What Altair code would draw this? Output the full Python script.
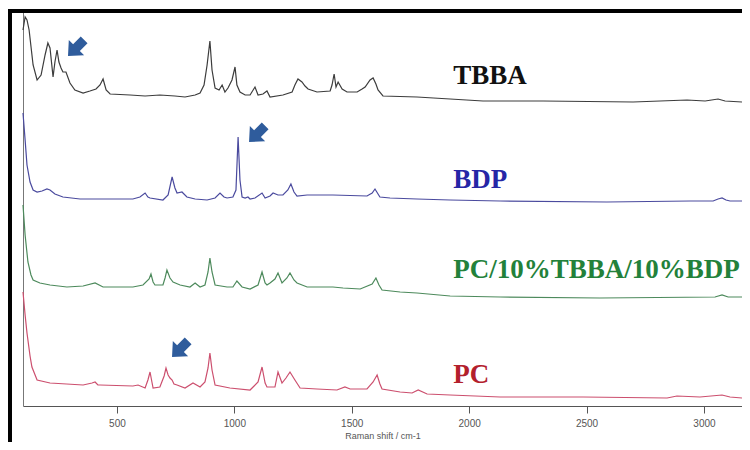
import altair as alt
import pandas as pd

# ---- data (Raman shift in cm-1, stacked intensity in a.u.) ----
tbba_shift = [100, 109, 117, 126, 143, 160, 177, 194, 206, 215, 228, 236, 245, 253, 262, 270, 283, 300, 321, 356,
              385, 411, 428, 441, 454, 471, 556, 620, 683, 747, 790, 833, 854, 871, 884, 896, 905, 918, 935, 948,
              960, 973, 990, 1003, 1011, 1024, 1046, 1067, 1088, 1101, 1122, 1139, 1152, 1207, 1246, 1258, 1271,
              1288, 1301, 1314, 1352, 1408, 1416, 1425, 1433, 1442, 1459, 1480, 1523, 1544, 1557, 1578, 1591, 1603,
              1612, 1633, 1778, 1919, 2059, 2315, 2698, 2928, 3005, 3060, 3090, 3162]
tbba_int = [376, 389, 386, 376, 341, 326, 331, 351, 363, 358, 329, 344, 356, 344, 338, 334, 334, 323, 316, 313,
            315, 317, 321, 327, 316, 312, 311, 310, 311, 310, 309, 311, 313, 321, 341, 365, 336, 318, 316, 321,
            314, 318, 326, 339, 321, 314, 311, 311, 319, 311, 312, 315, 309, 311, 314, 321, 327,
            324, 320, 317, 314, 315, 321, 332, 319, 324, 317, 314, 314, 317, 319, 326, 328, 322,
            316, 310, 309, 307, 305, 305, 304, 306, 305, 307, 305, 304]

bdp_shift = [100, 109, 117, 130, 143, 160, 181, 202, 215, 236, 270, 343, 428, 568, 598, 620, 632, 641, 696, 718,
             735, 747, 756, 777, 798, 833, 884, 918, 939, 956, 969, 994, 1007, 1016, 1024, 1033, 1046, 1058, 1067,
             1088, 1118, 1131, 1152, 1165, 1186, 1207, 1228, 1241, 1254, 1267, 1310, 1420, 1565, 1587, 1599, 1612,
             1620, 1663, 1778, 1919, 2132, 2587, 2941, 3039, 3060, 3077, 3094, 3111, 3162]
bdp_int = [293, 266, 241, 224, 216, 214, 215, 217, 216, 212, 209, 207, 207, 207, 209, 213, 209, 208, 206, 211,
           229, 218, 213, 214, 209, 207, 206, 208, 213, 209, 208, 209, 216, 269, 226, 209, 208, 209, 207,
           208, 213, 208, 210, 213, 211, 211, 216, 222, 214, 210, 211, 211, 210, 213, 217, 212,
           209, 208, 207, 206, 205, 204, 205, 205, 207, 208, 206, 205, 205]

mix_shift = [100, 109, 121, 134, 143, 172, 215, 287, 356, 407, 441, 568, 611, 637, 645, 654, 662, 696, 705, 713,
             726, 739, 769, 811, 833, 854, 875, 888, 896, 905, 918, 969, 994, 1011, 1033, 1067, 1101, 1118, 1131,
             1139, 1152, 1173, 1186, 1203, 1224, 1237, 1254, 1267, 1310, 1420, 1463, 1536, 1587, 1603, 1616,
             1629, 1706, 1778, 1919, 2132, 2557, 3047, 3077, 3103, 3162]
mix_int = [201, 171, 144, 131, 126, 123, 121, 119, 120, 123, 119, 119, 121, 127, 132, 124, 121, 121, 128, 136,
           128, 124, 121, 119, 123, 119, 121, 134, 148, 134, 121, 119, 119, 125, 119, 117, 121, 134, 123,
           121, 123, 127, 133, 123, 128, 133, 126, 123, 119, 119, 118, 117, 122, 128, 121,
           116, 114, 113, 110, 109, 108, 109, 111, 109, 109]

pc_shift = [100, 109, 117, 130, 138, 160, 215, 356, 394, 407, 419, 428, 568, 590, 620, 632, 641, 649, 654, 683,
            701, 709, 718, 726, 735, 743, 756, 790, 824, 854, 875, 888, 896, 905, 918, 981, 1067, 1101, 1118,
            1131, 1139, 1173, 1186, 1203, 1220, 1237, 1258, 1280, 1352, 1437, 1471, 1493, 1565, 1591, 1608,
            1620, 1629, 1706, 1757, 1783, 1821, 1919, 2132, 2485, 2843, 2885, 2983, 3077, 3111, 3162]
pc_int = [114, 91, 73, 50, 39, 26, 23, 21, 23, 24, 21, 21, 20, 21, 18, 26, 34, 24, 18, 19,
          30, 38, 31, 28, 26, 22, 21, 18, 23, 19, 24, 38, 53, 36, 21, 18, 16, 24, 39,
          23, 19, 19, 34, 23, 28, 34, 26, 18, 17, 16, 19, 17, 17, 24, 31,
          22, 17, 14, 13, 16, 12, 11, 9, 9, 8, 10, 9, 11, 9, 8]

series_names = ["TBBA", "BDP", "PC/10%TBBA/10%BDP", "PC"]
line_colors = ["#3c3c3c", "#4a4a9e", "#4d8a5c", "#cc4f6e"]
text_colors = ["#111111", "#2626a6", "#23813a", "#b3202c"]

label_shift = [1932, 1932, 1932, 1932]
label_int = [330, 226, 136, 31]

arrow_shift = [326, 1097, 769]
arrow_int = [358, 272, 57]

x_ticks = [500, 1000, 1500, 2000, 2500, 3000]

# ---- build tables ----
rows = []
for name, xs, ys in zip(series_names,
                        [tbba_shift, bdp_shift, mix_shift, pc_shift],
                        [tbba_int, bdp_int, mix_int, pc_int]):
    for xv, yv in zip(xs, ys):
        rows.append({"series": name, "shift": xv, "intensity": yv})
spec = pd.DataFrame(rows)
labels = pd.DataFrame({"series": series_names, "shift": label_shift, "intensity": label_int,
                       "tcolor": text_colors})
arrows = pd.DataFrame({"shift": arrow_shift, "intensity": arrow_int})

xscale = alt.Scale(domain=[100, 3162], nice=False, zero=False)
yscale = alt.Scale(domain=[0, 394], nice=False, zero=False)

lines = alt.Chart(spec).mark_line(strokeWidth=1.2, interpolate="linear").encode(
    x=alt.X("shift:Q", scale=xscale,
            axis=alt.Axis(values=x_ticks, format="d", title="Raman shift / cm-1", grid=False,
                          tickSize=7, tickColor="#555555", domainColor="#555555",
                          labelColor="#555555", labelFont="Liberation Sans", labelFontSize=10,
                          labelPadding=5, titleFont="Liberation Sans", titleFontSize=9,
                          titleFontWeight="normal", titleColor="#555555", titlePadding=3)),
    y=alt.Y("intensity:Q", scale=yscale,
            axis=alt.Axis(title=None, labels=False, ticks=False, grid=False, domainColor="#777777")),
    color=alt.Color("series:N", scale=alt.Scale(domain=series_names, range=line_colors), legend=None),
    detail="series:N",
)

texts = alt.Chart(labels).mark_text(align="left", baseline="middle", font="Liberation Serif",
                                    fontWeight="bold", fontSize=27).encode(
    x=alt.X("shift:Q", scale=xscale),
    y=alt.Y("intensity:Q", scale=yscale),
    text="series:N",
    color=alt.Color("tcolor:N", scale=None),
)

arrow_path = "M -0.42 -1 L 0.42 -1 L 0.42 -0.05 L 0.95 -0.05 L 0 1 L -0.95 -0.05 L -0.42 -0.05 Z"
arrow_marks = alt.Chart(arrows).mark_point(shape=arrow_path, filled=True, opacity=1,
                                           color="#2f5c9c", size=520, angle=45).encode(
    x=alt.X("shift:Q", scale=xscale),
    y=alt.Y("intensity:Q", scale=yscale),
)

frame_left = alt.Chart(labels).mark_rule(color="#000000", strokeWidth=3.5).encode(
    x=alt.value(-13), y=alt.value(-3), y2=alt.value(430))
frame_top = alt.Chart(labels).mark_rule(color="#000000", strokeWidth=3.5).encode(
    x=alt.value(-15), x2=alt.value(725), y=alt.value(-1))

chart = alt.layer(lines, texts, arrow_marks, frame_left, frame_top).properties(
    width=719, height=394,
    autosize=alt.AutoSizeParams(type="none"),
    padding={"left": 15, "top": 4, "right": 0, "bottom": 36},
    background="#ffffff",
).configure_view(strokeWidth=0)

chart.save("out.html", embed_options={"renderer": "svg", "actions": False})
